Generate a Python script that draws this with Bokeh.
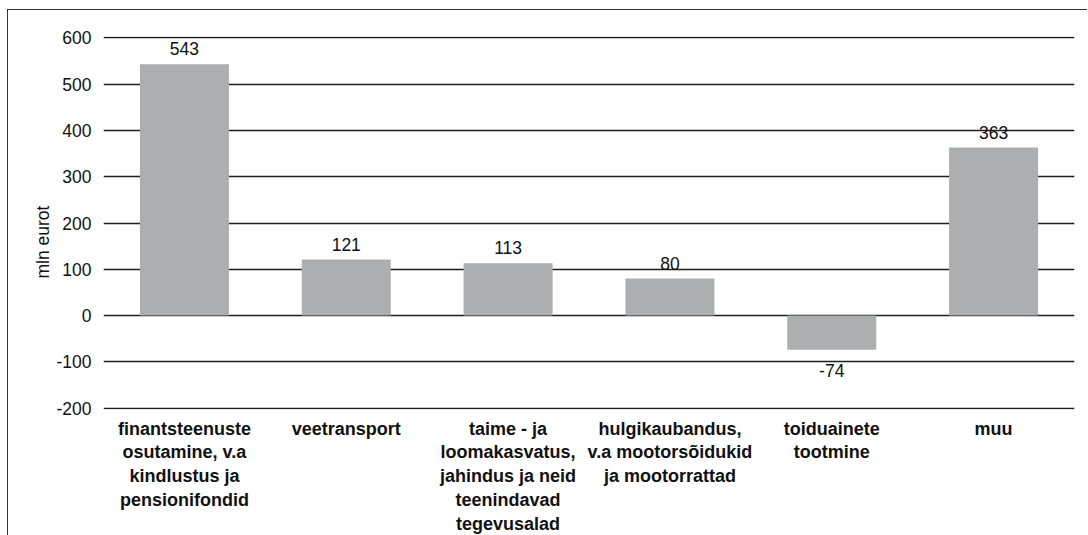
from bokeh.plotting import figure
from bokeh.models import ColumnDataSource, FactorRange, Range1d, FixedTicker, Title
from bokeh.core.properties import value
from bokeh.embed import file_html
from bokeh.resources import INLINE

categories = [
    "finantsteenuste\nosutamine, v.a\nkindlustus ja\npensionifondid",
    "veetransport",
    "taime - ja\nloomakasvatus,\njahindus ja neid\nteenindavad\ntegevusalad",
    "hulgikaubandus,\nv.a mootorsõidukid\nja mootorrattad",
    "toiduainete\ntootmine",
    "muu",
]
values = [543, 121, 113, 80, -74, 363]
y_ticks = [-200, -100, 0, 100, 200, 300, 400, 500, 600]
y_title = "mln eurot"

FONT = "Liberation Sans"
FS = "17.5px"

src = ColumnDataSource(dict(x=categories, top=values))
src_pos = ColumnDataSource(dict(x=[c for c, v in zip(categories, values) if v >= 0],
                                y=[v for v in values if v >= 0],
                                t=[str(v) for v in values if v >= 0]))
src_neg = ColumnDataSource(dict(x=[c for c, v in zip(categories, values) if v < 0],
                                y=[v for v in values if v < 0],
                                t=[str(v) for v in values if v < 0]))

p = figure(
    x_range=FactorRange(*categories, range_padding=0),
    y_range=Range1d(-203, 603),
    width=1080, height=526,
    output_backend="svg", toolbar_location=None,
    min_border_left=95, min_border_right=14, min_border_top=26, min_border_bottom=127,
)
p.margin = (9, 0, 0, 7)
p.styles = {"border-left": "1px solid #333", "border-top": "1px solid #333"}
p.outline_line_color = None
p.background_fill_color = "white"

p.xgrid.grid_line_color = None
p.ygrid.grid_line_color = "#1e1e1e"
p.ygrid.grid_line_width = 1.4
p.ygrid.ticker = FixedTicker(ticks=y_ticks)

p.vbar(x="x", top="top", bottom=0, width=0.55, source=src,
       fill_color="#adaeb0", line_color=None)

p.text(x="x", y="y", text="t", source=src_pos, text_align="center",
       text_baseline="bottom", y_offset=-9, text_font=value(FONT),
       text_font_size=FS, text_color="#111")
p.text(x="x", y="y", text="t", source=src_neg, text_align="center",
       text_baseline="top", y_offset=14, text_font=value(FONT),
       text_font_size=FS, text_color="#111")

p.yaxis.ticker = FixedTicker(ticks=y_ticks)
p.yaxis.major_label_overrides = {t: str(t) for t in y_ticks}
p.yaxis.axis_line_color = None
p.yaxis.major_tick_line_color = None
p.yaxis.minor_tick_line_color = None
p.yaxis.major_label_text_font = FONT
p.yaxis.major_label_text_font_size = FS
p.yaxis.major_label_text_color = "#111"
p.yaxis.major_label_standoff = 6

p.add_layout(Title(text=y_title, align="left", offset=131,
                   text_font=FONT, text_font_size=FS, text_font_style="normal",
                   text_color="#111", standoff=2), "left")

p.xaxis.axis_line_color = None
p.xaxis.major_tick_line_color = None
p.xaxis.minor_tick_line_color = None
p.xaxis.major_label_text_font = FONT
p.xaxis.major_label_text_font_size = "18px"
p.xaxis.major_label_text_font_style = "bold"
p.xaxis.major_label_text_color = "#111"
p.xaxis.major_label_standoff = 3
p.xaxis.major_label_text_line_height = 1.19

open("out.html", "w").write(file_html(p, INLINE))
